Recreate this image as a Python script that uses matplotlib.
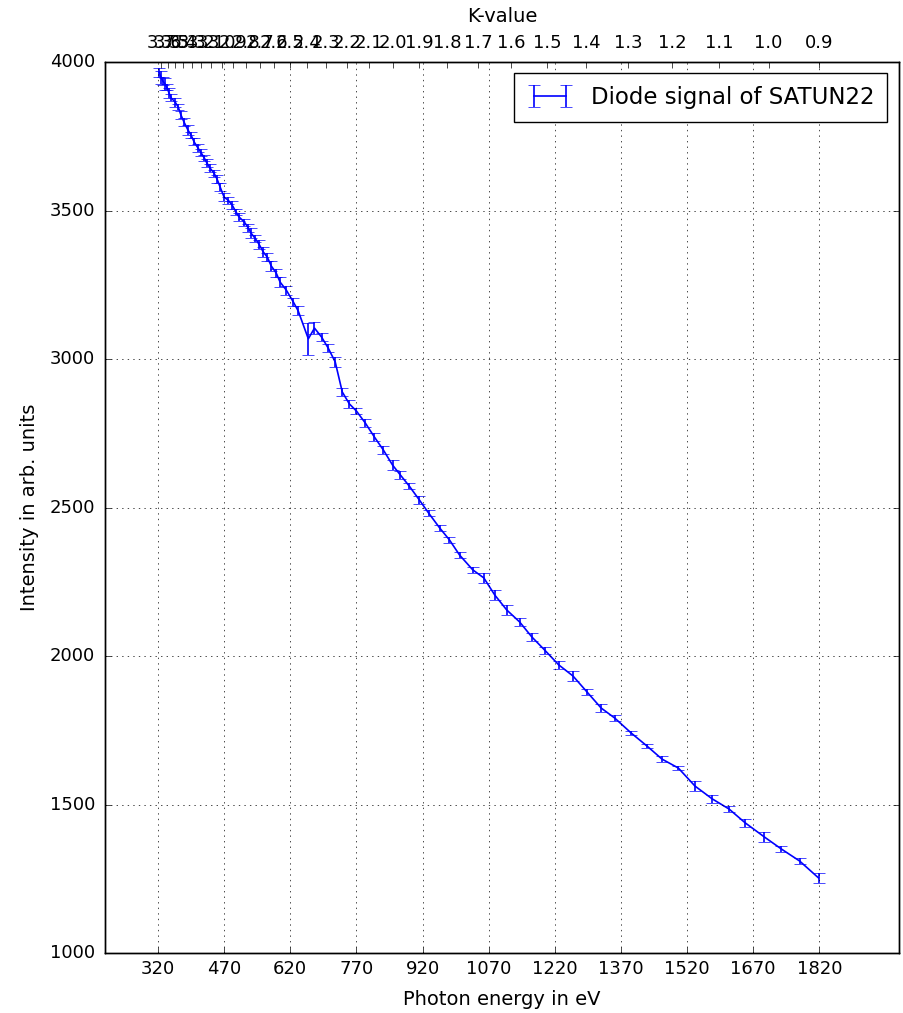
import matplotlib
matplotlib.use("Agg")
import matplotlib.pyplot as plt

# Undulator scan of SATUN22: photon energy, diode intensity and its error
energy = [322, 327, 331, 336, 340, 345, 350, 359, 366, 372,
          379, 388, 395, 402, 411, 418, 425, 431, 438, 447,
          454, 461, 470, 479, 488, 497, 504, 516, 525, 531,
          540, 549, 559, 568, 577, 588, 597, 611, 627, 638,
          661, 675, 691, 706, 722, 738, 754, 770, 790, 811,
          831, 852, 870, 890, 913, 934, 959, 981, 1004, 1034,
          1059, 1084, 1111, 1140, 1168, 1197, 1229, 1261, 1293, 1325,
          1356, 1393, 1429, 1463, 1500, 1538, 1577, 1615, 1652, 1695,
          1734, 1775, 1818]
intensity = [3966, 3949, 3936, 3926, 3916, 3896, 3879, 3865, 3848, 3822,
             3798, 3771, 3754, 3731, 3710, 3694, 3677, 3660, 3643, 3626,
             3606, 3579, 3545, 3535, 3519, 3495, 3478, 3461, 3441, 3424,
             3407, 3387, 3360, 3343, 3313, 3290, 3259, 3232, 3192, 3162,
             3068, 3104, 3074, 3037, 2990, 2889, 2849, 2825, 2785, 2737,
             2694, 2643, 2609, 2572, 2525, 2481, 2431, 2391, 2340, 2290,
             2263, 2205, 2155, 2115, 2064, 2020, 1970, 1933, 1879, 1825,
             1791, 1741, 1697, 1653, 1623, 1562, 1519, 1485, 1438, 1391,
             1350, 1310, 1253]
error = [15, 22, 12, 20, 10, 18, 12, 15, 10, 14,
         12, 16, 10, 12, 14, 12, 10, 14, 12, 12,
         15, 12, 14, 12, 13, 11, 14, 12, 13, 16,
         12, 15, 17, 14, 16, 13, 18, 15, 14, 15,
         53, 20, 12, 14, 16, 12, 14, 9, 13, 13,
         13, 17, 13, 11, 13, 11, 11, 11, 11, 11,
         16, 16, 16, 13, 14, 12, 13, 18, 9, 13,
         11, 8, 6, 10, 8, 18, 13, 9, 13, 16,
         9, 11, 16]

energy_ticks = [320, 470, 620, 770, 920, 1070, 1220, 1370, 1520, 1670, 1820]
k_ticks = [3.7, 3.6, 3.5, 3.4, 3.3, 3.2, 3.1, 3.0, 2.9, 2.8, 2.7, 2.6, 2.5,
           2.4, 2.3, 2.2, 2.1, 2.0, 1.9, 1.8, 1.7, 1.6, 1.5, 1.4, 1.3, 1.2,
           1.1, 1.0, 0.9]

E0 = 2557.0  # photon energy at K = 0


def photon_energy(k):
    return E0 / (1 + k ** 2 / 2)


plt.style.use("classic")
plt.rcParams["xtick.labelsize"] = 13
plt.rcParams["ytick.labelsize"] = 13
plt.rcParams["axes.labelsize"] = 14

fig = plt.figure(figsize=(9.04, 10.13), dpi=100, facecolor="white")
ax = fig.add_axes([0.1162, 0.0592, 0.878, 0.8796])

ax.errorbar(energy, intensity, yerr=error, color="b", capsize=4,
            linewidth=1.2, label="Diode signal of SATUN22")
ax.set_xlim(200, 2000)
ax.set_ylim(1000, 4000)
ax.set_xticks(energy_ticks)
ax.tick_params(axis="x", pad=5)
ax.tick_params(axis="y", pad=7)
ax.set_xlabel("Photon energy in eV", labelpad=9)
ax.set_ylabel("Intensity in arb. units", labelpad=8)
ax.grid(True)
ax.legend(loc="upper right", fontsize=16.5, borderpad=0.55)

ax2 = ax.twiny()
ax2.set_xlim(ax.get_xlim())
ax2.set_xticks([photon_energy(k) for k in k_ticks])
ax2.set_xticklabels(["%.1f" % k for k in k_ticks])
ax2.tick_params(axis="x", pad=7)
ax2.set_xlabel("K-value", labelpad=9)

fig.savefig("out.png", dpi=100, facecolor="white")
